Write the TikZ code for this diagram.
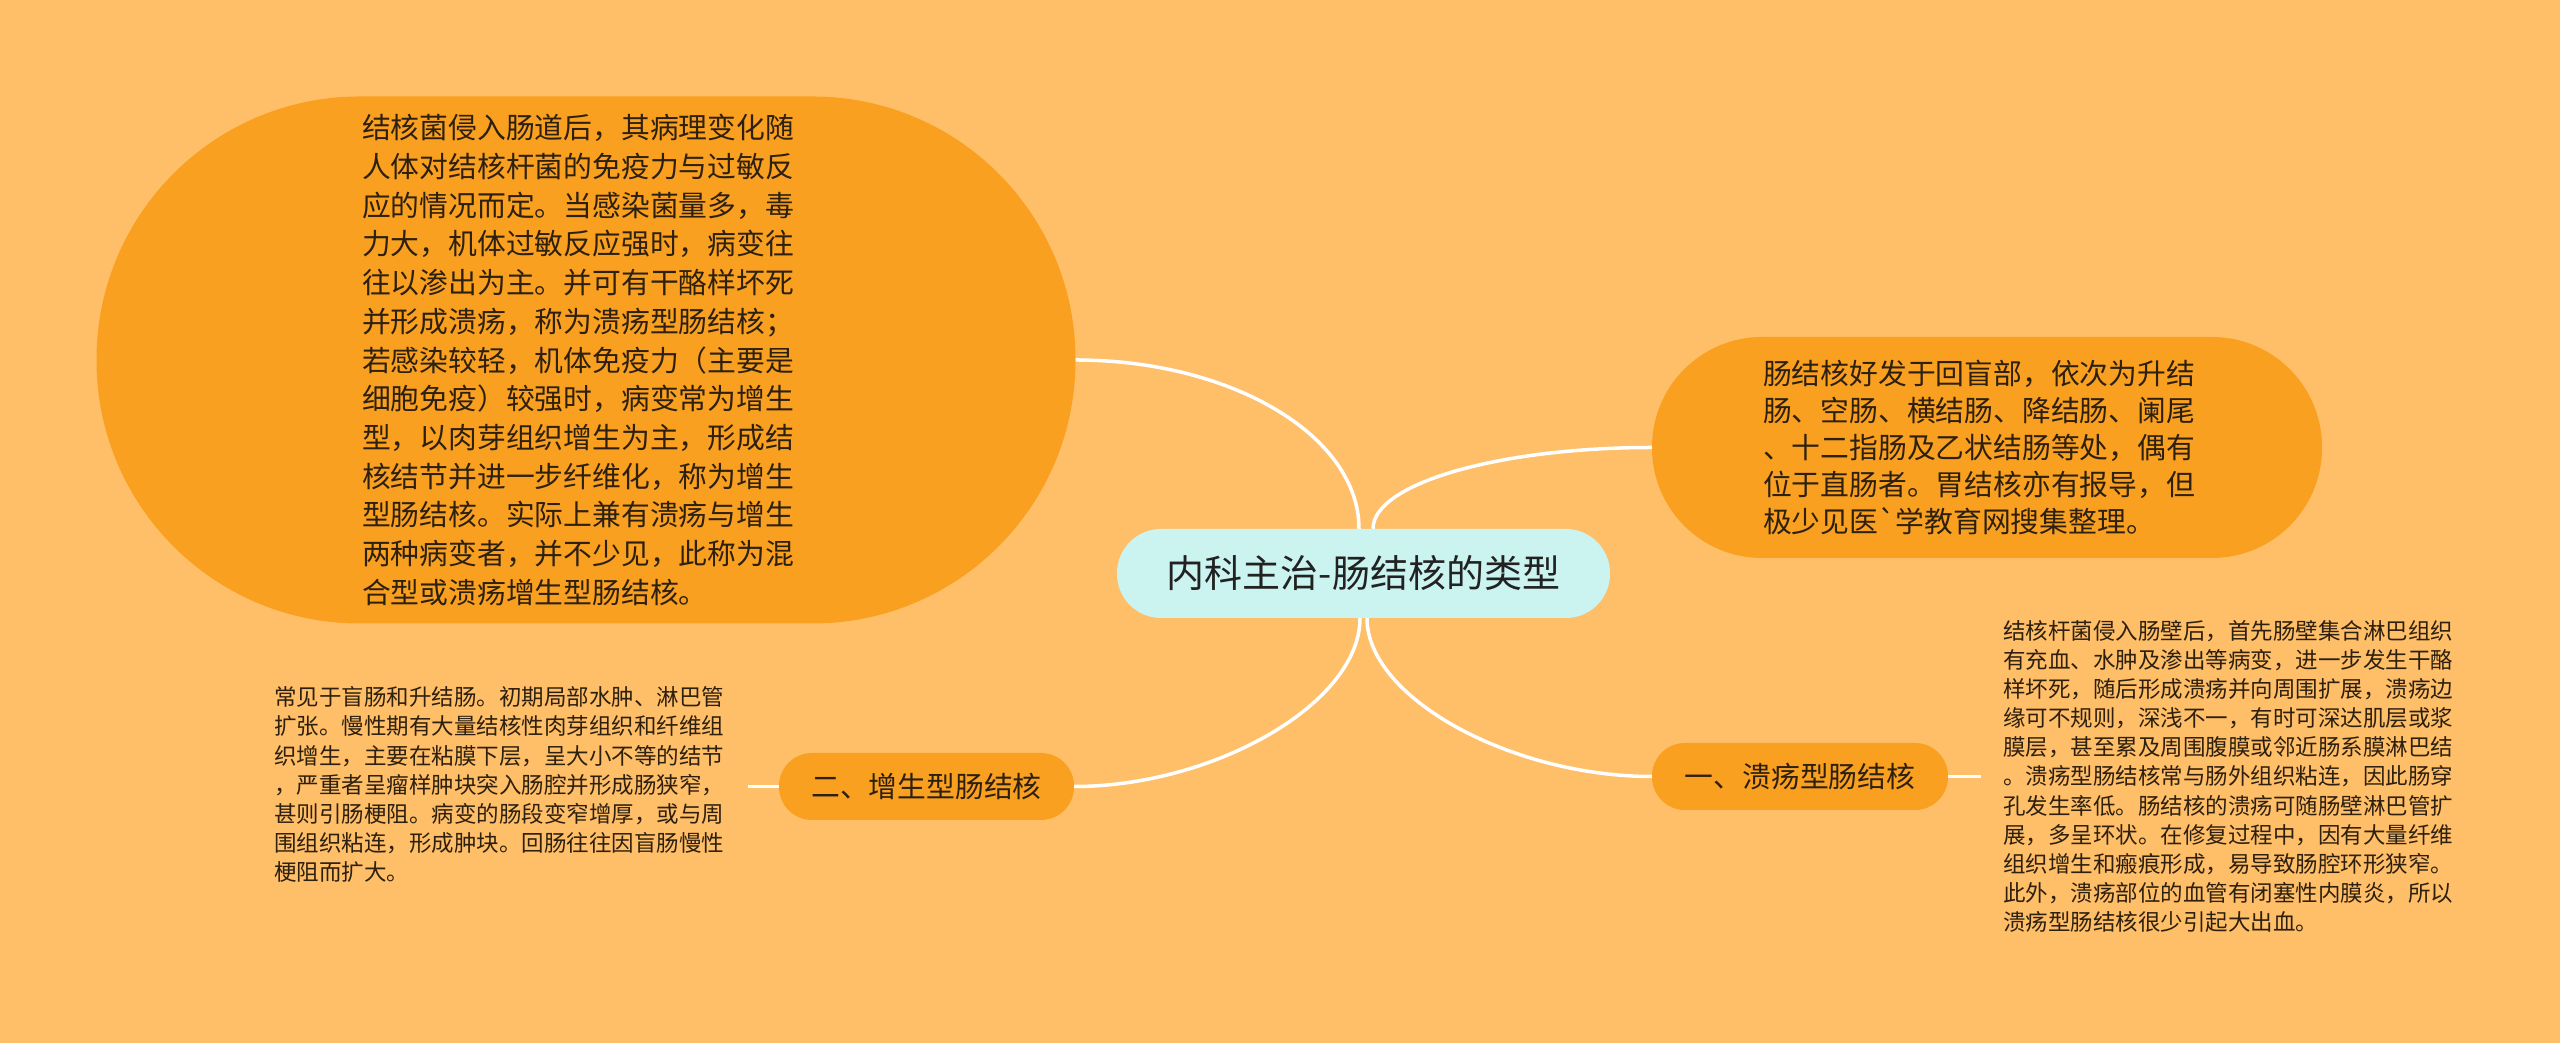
\documentclass[tikz,border=0pt]{standalone}
\usepackage{fontspec}
\newfontfamily\cjk{Noto Sans CJK SC}
\usetikzlibrary{calc}
\definecolor{bgc}{RGB}{255,190,104}
\definecolor{bubblec}{RGB}{250,160,33}
\definecolor{centerc}{RGB}{203,243,240}
\definecolor{txtc}{RGB}{45,32,14}
\definecolor{ctxt}{RGB}{34,34,34}
\begin{document}
\begin{tikzpicture}[x=1pt,y=1pt,
  bubble/.style={fill=bubblec, inner sep=0pt, text=txtc, align=left},
  smalltext/.style={inner sep=0pt, text=txtc, align=left, anchor=west,
    font=\cjk\fontsize{22.5}{29.1}\selectfont},
  conn/.style={draw=white, line width=3.5pt},
]
\fill[bgc] (0,0) rectangle (2560,1043);
\useasboundingbox (0,0) rectangle (2560,1043);

\node[bubble, minimum width=979pt, minimum height=527pt, rounded corners=263pt,
  text width=448pt, font=\cjk\fontsize{28.8}{38.7}\selectfont] (big) at (586,683) {%
结核菌侵入肠道后，其病理变化随\\
人体对结核杆菌的免疫力与过敏反\\
应的情况而定。当感染菌量多，毒\\
力大，机体过敏反应强时，病变往\\
往以渗出为主。并可有干酪样坏死\\
并形成溃疡，称为溃疡型肠结核；\\
若感染较轻，机体免疫力（主要是\\
细胞免疫）较强时，病变常为增生\\
型，以肉芽组织增生为主，形成结\\
核结节并进一步纤维化，称为增生\\
型肠结核。实际上兼有溃疡与增生\\
两种病变者，并不少见，此称为混\\
合型或溃疡增生型肠结核。};

\node[bubble, minimum width=670pt, minimum height=221pt, rounded corners=110pt,
  text width=448pt, font=\cjk\fontsize{28.8}{37}\selectfont] (rtop) at (1987,595.5) {%
肠结核好发于回盲部，依次为升结\\
肠、空肠、横结肠、降结肠、阑尾\\
、十二指肠及乙状结肠等处，偶有\\
位于直肠者。胃结核亦有报导，但\\
极少见医{\char96}学教育网搜集整理。};

\node[fill=centerc, inner sep=0pt, minimum width=493pt, minimum height=89pt,
  rounded corners=44pt, text=ctxt, font=\cjk\fontsize{38}{44}\selectfont]
  (ctr) at (1363.5,469.5) {内科主治-肠结核的类型};

\node[bubble, minimum width=296pt, minimum height=67pt, rounded corners=33pt,
  font=\cjk\fontsize{28.8}{34}\selectfont] (b1) at (1800,266.5) {一、溃疡型肠结核};

\node[bubble, minimum width=295pt, minimum height=67pt, rounded corners=33pt,
  font=\cjk\fontsize{28.8}{34}\selectfont] (b2) at (926.5,256.5) {二、增生型肠结核};

\node[smalltext] (rtext) at (2003,266.5) {%
结核杆菌侵入肠壁后，首先肠壁集合淋巴组织\\
有充血、水肿及渗出等病变，进一步发生干酪\\
样坏死，随后形成溃疡并向周围扩展，溃疡边\\
缘可不规则，深浅不一，有时可深达肌层或浆\\
膜层，甚至累及周围腹膜或邻近肠系膜淋巴结\\
。溃疡型肠结核常与肠外组织粘连，因此肠穿\\
孔发生率低。肠结核的溃疡可随肠壁淋巴管扩\\
展，多呈环状。在修复过程中，因有大量纤维\\
组织增生和瘢痕形成，易导致肠腔环形狭窄。\\
此外，溃疡部位的血管有闭塞性内膜炎，所以\\
溃疡型肠结核很少引起大出血。};

\node[smalltext] (ltext) at (274,258.5) {%
常见于盲肠和升结肠。初期局部水肿、淋巴管\\
扩张。慢性期有大量结核性肉芽组织和纤维组\\
织增生，主要在粘膜下层，呈大小不等的结节\\
，严重者呈瘤样肿块突入肠腔并形成肠狭窄，\\
甚则引肠梗阻。病变的肠段变窄增厚，或与周\\
围组织粘连，形成肿块。回肠往往因盲肠慢性\\
梗阻而扩大。};

\coordinate (r1end) at ($(b1.east)+(33,0)$);
\coordinate (l1end) at ($(b2.west)+(-31,0)$);

\draw[conn] ([xshift=-4.5pt]ctr.north) .. controls +(0,93) and +(156,0) .. (big.east);
\draw[conn] ([xshift=9.5pt]ctr.north) .. controls +(0,45) and +(-154,0) .. (rtop.west);
\draw[conn] ([xshift=3.5pt]ctr.south) .. controls +(0,-80) and +(-140,0) .. (b1.west);
\draw[conn] ([xshift=-3.5pt]ctr.south) .. controls +(0,-85) and +(140,0) .. (b2.east);
\draw[conn] (b1.east) -- (r1end);
\draw[conn] (b2.west) -- (l1end);
\end{tikzpicture}
\end{document}
